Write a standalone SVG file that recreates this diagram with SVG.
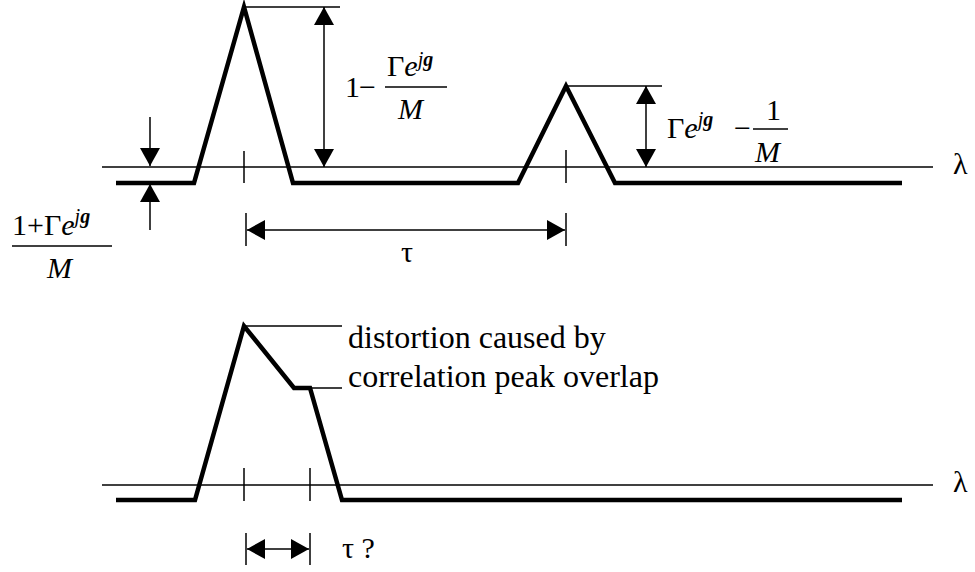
<svg xmlns="http://www.w3.org/2000/svg" width="975" height="572" viewBox="0 0 975 572">
<defs>
<style>
.thick{fill:none;stroke:#000;stroke-width:4.5;stroke-linejoin:miter}
.thin{fill:none;stroke:#000;stroke-width:1.5}
.arr{fill:none;stroke:#000;stroke-width:1.5;marker-start:url(#ah);marker-end:url(#ah)}
.arr1{fill:none;stroke:#000;stroke-width:1.5;marker-end:url(#ah)}
text{font-family:"Liberation Serif","Times New Roman",serif;fill:#000}
.m{font-size:30px}
.lbl{font-size:32px}
.it{font-style:italic}
.sup{font-size:20px;font-style:italic}
</style>
<marker id="ah" viewBox="0 0 18 20" markerWidth="18" markerHeight="20" refX="18" refY="10" orient="auto-start-reverse" markerUnits="userSpaceOnUse">
<path d="M0,0 L18,10 L0,20 z" fill="#000"/>
</marker>
</defs>
<rect width="975" height="572" fill="#fff"/>

<g id="top-graph">
<line class="thin" x1="102" y1="167" x2="933" y2="167"/>
<polyline class="thick" points="116,183 194,183 244,7 293,183 518,183 566,86 615,183 902,183"/>
<line class="thin" x1="244" y1="151" x2="244" y2="183"/>
<line class="thin" x1="566" y1="150" x2="566" y2="183"/>
<line class="thin" x1="244" y1="7" x2="340" y2="7"/>
<line class="thin" x1="566" y1="86" x2="662" y2="86"/>
<text class="m" x="953" y="174">λ</text>
</g>

<g id="bottom-graph">
<line class="thin" x1="102" y1="485" x2="933" y2="485"/>
<polyline class="thick" points="116,500 195,500 244,326 294,388 310,388 342,500 902,500"/>
<line class="thin" x1="244" y1="468" x2="244" y2="501"/>
<line class="thin" x1="310" y1="468" x2="310" y2="501"/>
<line class="thin" x1="244" y1="326" x2="342" y2="326"/>
<line class="thin" x1="310" y1="388" x2="342" y2="388"/>
<text class="m" x="953" y="492">λ</text>
</g>

<g id="connectors">
<line class="arr" x1="324" y1="7" x2="324" y2="167"/>
<line class="arr" x1="646" y1="86" x2="646" y2="167"/>
<line class="arr1" x1="150" y1="117" x2="150" y2="166"/>
<line class="arr1" x1="150" y1="230" x2="150" y2="184"/>
<line class="thin" x1="246" y1="213" x2="246" y2="246"/>
<line class="thin" x1="566" y1="213" x2="566" y2="246"/>
<line class="arr" x1="247" y1="230" x2="565" y2="230"/>
<line class="thin" x1="246" y1="533" x2="246" y2="565"/>
<line class="thin" x1="310" y1="533" x2="310" y2="565"/>
<line class="arr" x1="247" y1="549" x2="309" y2="549"/>
</g>

<g id="label-peak-height">
<text class="m" x="345" y="97">1</text>
<text class="m" x="359" y="97">−</text>
<line class="thin" x1="385" y1="87" x2="447" y2="87"/>
<text class="m" x="387" y="76">Γ<tspan class="it">e</tspan><tspan class="sup" dy="-10">j<tspan font-weight="bold">g</tspan></tspan></text>
<text class="m it" x="398" y="119">M</text>
</g>

<g id="label-second-peak">
<text class="m" x="667" y="138">Γ<tspan class="it">e</tspan><tspan class="sup" dy="-12">j<tspan font-weight="bold">g</tspan></tspan></text>
<text class="m" x="734" y="138">−</text>
<line class="thin" x1="753" y1="129" x2="788" y2="129"/>
<text class="m" x="766" y="120">1</text>
<text class="m it" x="755" y="162">M</text>
</g>

<g id="label-offset">
<text class="m" x="12" y="235">1+Γ<tspan class="it">e</tspan><tspan class="sup" dy="-12">j<tspan font-weight="bold">g</tspan></tspan></text>
<line class="thin" x1="12" y1="246" x2="112" y2="246"/>
<text class="m it" x="47" y="278">M</text>
</g>

<g id="label-tau">
<text class="m" x="401" y="262">τ</text>
</g>

<g id="label-distortion">
<text class="lbl" x="348" y="348">distortion caused by</text>
<text class="lbl" x="348" y="387">correlation peak overlap</text>
</g>

<g id="label-tau-q">
<text class="m" x="342" y="558">τ ?</text>
</g>
</svg>
